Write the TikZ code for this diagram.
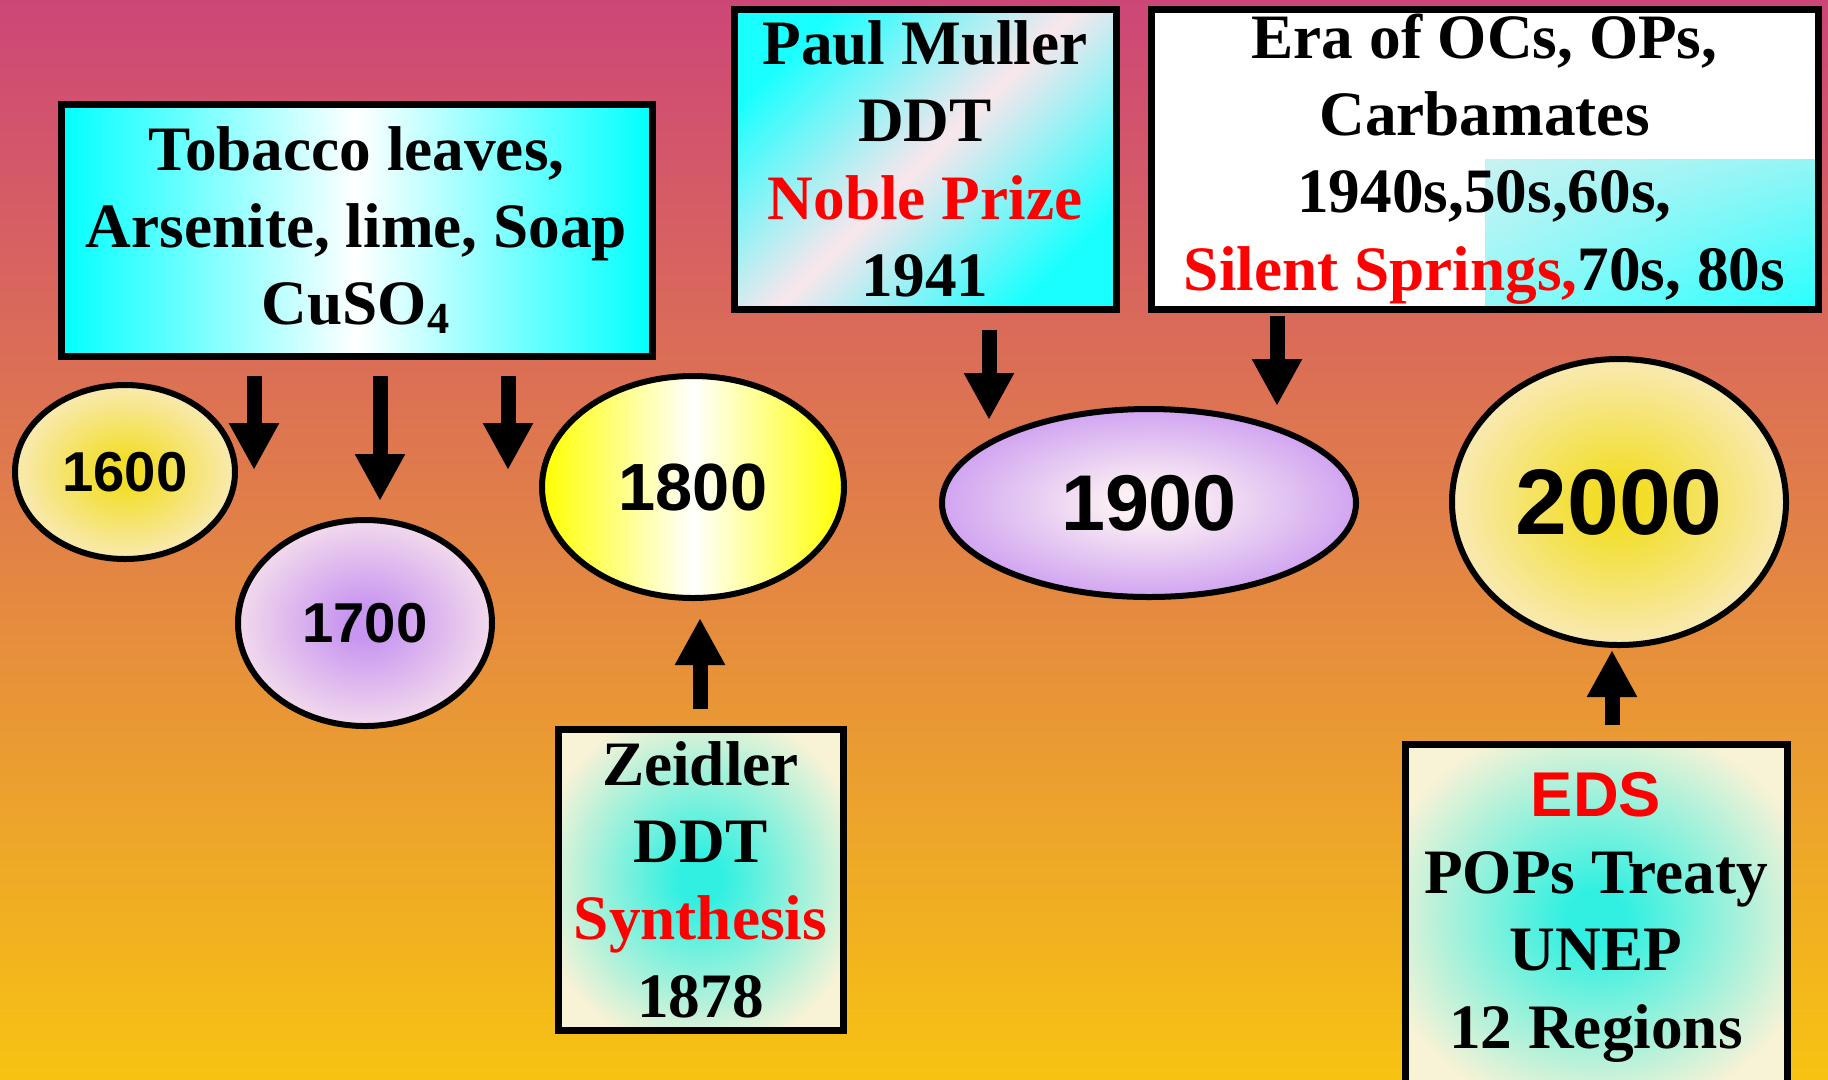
\documentclass[tikz,border=0pt]{standalone}
\usepackage{fontspec}
\setmainfont{Liberation Serif}
\newfontfamily\yearfont{Liberation Sans}
\usetikzlibrary{shapes.geometric,arrows.meta,shadings}

\definecolor{bgtop}{RGB}{205,70,120}
\definecolor{bgmid}{RGB}{226,130,70}
\definecolor{bgbot}{RGB}{247,195,18}
\definecolor{cream}{RGB}{248,242,214}
\definecolor{paleyellow}{RGB}{250,236,205}
\definecolor{goldyellow}{RGB}{242,222,40}
\definecolor{lilac}{RGB}{200,150,240}
\definecolor{palepink}{RGB}{250,230,236}
\definecolor{aqua}{RGB}{50,240,225}
\colorlet{glowin}{aqua}
\colorlet{glowout}{cream}

\pgfdeclareradialshading[glowin,glowout]{glow}{\pgfpoint{0cm}{0cm}}{color(0bp)=(glowin); color(4bp)=(glowin); color(29bp)=(glowout); color(50bp)=(glowout)}

\tikzset{
  infobox/.style={draw=black, line width=0.07cm, rectangle, inner sep=0pt,
    align=center, font=\fontsize{18}{22}\selectfont\bfseries},
  yearnode/.style={draw=black, line width=0.06cm, ellipse, inner sep=0pt},
  yearfont/.style={font=\yearfont\bfseries\fontsize{#1}{#1}\selectfont},
  glow/.style 2 args={/utils/exec={\colorlet{glowin}{#1}\colorlet{glowout}{#2}}, shade, shading=glow},
  bigarrow/.style={line width=0.15cm, -{Triangle[width=0.47cm,length=0.47cm]}},
}

\begin{document}
\begin{tikzpicture}

%% - Draw background
%% - --------------------------------------

\useasboundingbox (0,0) rectangle (18.28,-10.79);
\shade[top color=bgtop, bottom color=bgbot, middle color=bgmid] (0,0) rectangle (18.28,-10.79);

%% - Draw boxes
%% - --------------------------------------

\node[infobox, minimum width=5.91cm, minimum height=2.52cm, left color=cyan, right color=cyan, middle color=white] (tobacco) at (3.565,-2.30) {Tobacco leaves,\\Arsenite, lime, Soap\\CuSO\textsubscript{4}};

\node[infobox, minimum width=3.82cm, minimum height=3.00cm, left color=cyan!90!white, right color=cyan!90!white, middle color=palepink, shading angle=45] (muller) at (9.25,-1.59) {Paul Muller\\DDT\\\textcolor{red}{Noble Prize}\\1941};

\node[infobox, minimum width=6.67cm, minimum height=3.00cm, fill=white,
  path picture={\shade[upper left=pink!35!white, upper right=pink!30!white, lower left=pink!20!white, lower right=cyan!85!white]
    ([xshift=-3.33cm]path picture bounding box.south east) rectangle ([yshift=1.50cm]path picture bounding box.south east);}] (era) at (14.845,-1.59) {Era of OCs, OPs,\\Carbamates\\1940s,50s,60s,\\\textcolor{red}{Silent Springs,}70s, 80s};

\node[infobox, minimum width=2.85cm, minimum height=3.01cm, glow={aqua}{cream}] (zeidler) at (7.005,-8.795) {Zeidler\\DDT\\\textcolor{red}{Synthesis}\\1878};

\node[infobox, minimum width=3.82cm, minimum height=3.46cm, glow={aqua}{cream}] (eds) at (15.96,-9.17) {{\yearfont\textcolor{red}{EDS}}\\POPs Treaty\\UNEP\\12 Regions};

%% - Draw years
%% - --------------------------------------

\node[yearnode, yearfont=16, minimum width=2.20cm, minimum height=1.74cm, glow={goldyellow}{paleyellow}] (y1600) at (1.25,-4.72) {1600};
\node[yearnode, yearfont=16, minimum width=2.54cm, minimum height=2.06cm, glow={lilac}{palepink}] (y1700) at (3.65,-6.23) {1700};
\node[yearnode, yearfont=19, minimum width=3.02cm, minimum height=2.22cm, left color=yellow, right color=yellow, middle color=white] (y1800) at (6.93,-4.87) {1800};
\node[yearnode, yearfont=22.5, minimum width=4.14cm, minimum height=1.88cm, glow={palepink!60!white}{lilac}] (y1900) at (11.49,-5.03) {1900};
\node[yearnode, yearfont=26.5, minimum width=3.34cm, minimum height=2.86cm, glow={goldyellow}{paleyellow}] (y2000) at (16.19,-5.02) {2000};

%% - Draw arrows
%% - --------------------------------------

\coordinate (a1) at (2.54,-4.70);
\coordinate (a2) at (3.80,-5.01);
\coordinate (a3) at (5.08,-4.70);
\coordinate (b1) at (9.89,-4.20);
\coordinate (b2) at (12.77,-4.06);
\coordinate (c1) at (7.00,-6.18);
\coordinate (c2) at (16.12,-6.50);

\draw[bigarrow, shorten <=0.16cm] (tobacco.south -| a1) -- (a1);
\draw[bigarrow, shorten <=0.16cm] (tobacco.south -| a2) -- (a2);
\draw[bigarrow, shorten <=0.16cm] (tobacco.south -| a3) -- (a3);
\draw[bigarrow, shorten <=0.17cm] (muller.south -| b1) -- (b1);
\draw[bigarrow, shorten <=0.03cm] (era.south -| b2) -- (b2);
\draw[bigarrow, shorten <=0.17cm] (zeidler.north -| c1) -- (c1);
\draw[bigarrow, shorten <=0.16cm] (eds.north -| c2) -- (c2);

\end{tikzpicture}
\end{document}
